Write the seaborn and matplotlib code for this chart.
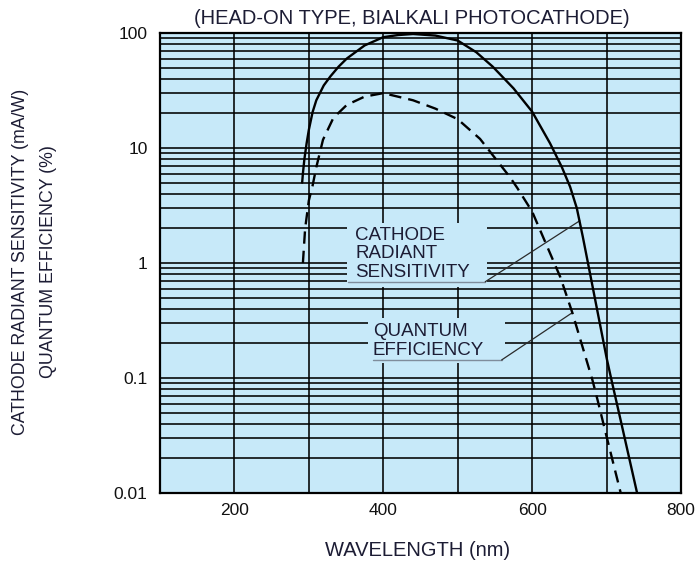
import matplotlib
matplotlib.use("Agg")
import numpy as np
import pandas as pd
import seaborn as sns
import matplotlib.pyplot as plt
from matplotlib import font_manager
from matplotlib.ticker import FixedLocator, FixedFormatter, NullFormatter

# ---------------- data ----------------
wl_sens = [291, 292, 294, 297, 300, 305, 310, 320, 329, 340, 351, 375, 400, 420, 440,
           470, 500, 525, 547, 575, 600, 624, 640, 651, 660, 668, 675, 700, 706, 720, 741]
sens = [5.0, 6.0, 8.0, 11.0, 14.4, 20.5, 26.0, 35.0, 42.0, 51.0, 60.0, 78.0, 92.0, 96.0, 98.0,
        95.0, 86.0, 68.0, 51.0, 33.0, 20.7, 11.0, 6.8, 4.6, 3.0, 1.7, 1.0, 0.15, 0.10, 0.04, 0.01]

wl_qe = [292, 295, 300, 305, 310, 319, 333, 351, 375, 400, 440, 470, 500, 530, 570, 580,
         600, 638, 654, 681, 688, 700, 719]
qe = [1.0, 2.0, 3.5, 4.7, 6.8, 11.8, 18.3, 23.7, 28.0, 30.0, 26.0, 22.0, 17.8, 12.0, 5.6, 4.5,
      2.8, 0.75, 0.37, 0.096, 0.064, 0.031, 0.01]

x_ticks = [200, 400, 600, 800]
x_grid = [100, 200, 300, 400, 500, 600, 700, 800]
y_ticks = [0.01, 0.1, 1, 10, 100]
y_tick_labels = ["0.01", "0.1", "1", "10", "100"]

title = "(HEAD-ON TYPE, BIALKALI PHOTOCATHODE)"
xlabel = "WAVELENGTH (nm)"
ylabel1 = "CATHODE RADIANT SENSITIVITY (mA/W)"
ylabel2 = "QUANTUM EFFICIENCY (%)"
label_sens = ["CATHODE", "RADIANT", "SENSITIVITY"]
label_qe = ["QUANTUM", "EFFICIENCY"]

# ---------------- style ----------------
sns.set_style("white")
plt.rcParams['font.family'] = ['Liberation Sans', 'DejaVu Sans']
names = {f.name for f in font_manager.fontManager.ttflist}
narrow = 'Liberation Sans Narrow' if 'Liberation Sans Narrow' in names else 'Liberation Sans'

BG = '#c7e9f9'
TXT = '#1c1c34'

W, H = 699, 564
fig = plt.figure(figsize=(W / 100, H / 100), dpi=100)
fig.patch.set_facecolor('white')
L, R, T, B = 160, 681, 33, 493
ax = fig.add_axes([L / W, 1 - B / H, (R - L) / W, (B - T) / H])
ax.set_facecolor(BG)

df_s = pd.DataFrame({'wavelength': wl_sens, 'value': sens})
df_q = pd.DataFrame({'wavelength': wl_qe, 'value': qe})
sns.lineplot(data=df_s, x='wavelength', y='value', ax=ax, color='black', lw=1.7,
             sort=False, estimator=None, zorder=4)
sns.lineplot(data=df_q, x='wavelength', y='value', ax=ax, color='black', lw=1.7,
             sort=False, estimator=None, zorder=4)
ax.lines[-1].set_linestyle((0, (5.2, 3.0)))

ax.set_yscale('log')
ax.set_xlim(100, 800)
ax.set_ylim(0.01, 100)

ax.xaxis.set_major_locator(FixedLocator(x_ticks))
ax.xaxis.set_minor_locator(FixedLocator(x_grid))
ax.xaxis.set_minor_formatter(NullFormatter())
ax.yaxis.set_major_locator(FixedLocator(y_ticks))
ax.yaxis.set_major_formatter(FixedFormatter(y_tick_labels))
minors = [m * 10.0 ** e for e in range(-2, 2) for m in range(2, 10)]
ax.yaxis.set_minor_locator(FixedLocator(minors))
ax.yaxis.set_minor_formatter(NullFormatter())

ax.set_axisbelow(True)
ax.grid(which='both', axis='both', color='black', lw=1.15)
ax.tick_params(which='both', length=0)
ax.tick_params(axis='x', pad=7, labelsize=12.5, labelcolor='#111111')
ax.tick_params(axis='y', pad=9, labelsize=12.5, labelcolor='#111111')
ax.set_xlabel('')
ax.set_ylabel('')
for s in ax.spines.values():
    s.set_visible(True)
    s.set_color('black')
    s.set_linewidth(1.6)

# annotation boxes masking the grid
ax.fill([351, 540, 540, 351], [0.62, 0.62, 2.23, 2.23], color=BG, zorder=1.5, lw=0)
ax.fill([379, 563, 563, 379], [0.136, 0.136, 0.333, 0.333], color=BG, zorder=1.5, lw=0)
ax.plot([353, 537], [0.687, 0.687], color='#7f8d9c', lw=1.0, zorder=3)
ax.plot([386, 559], [0.1435, 0.1435], color='#7f8d9c', lw=1.0, zorder=3)
ax.plot([537, 664], [0.687, 2.33], color='#2a2a2a', lw=0.9, zorder=3)
ax.plot([559, 654], [0.1435, 0.37], color='#2a2a2a', lw=0.9, zorder=3)

for txt, yv in zip(label_sens, [1.73, 1.2, 0.83]):
    ax.text(362, yv, txt, ha='left', va='center', fontsize=13.5, color=TXT, zorder=3)
for txt, yv in zip(label_qe, [0.253, 0.175]):
    ax.text(386, yv, txt, ha='left', va='center', fontsize=13.5, color=TXT, zorder=3)

fig.text(412 / W, 1 - 18 / H, title, ha='center', va='center', fontsize=14.5, color=TXT)
fig.text(418 / W, 1 - 550 / H, xlabel, ha='center', va='center', fontsize=14.5, color=TXT)
fig.text(21 / W, 1 - 262 / H, ylabel1, rotation=90, ha='center', va='center',
         fontsize=12.8, color=TXT, family=[narrow, 'DejaVu Sans'])
fig.text(49 / W, 1 - 262 / H, ylabel2, rotation=90, ha='center', va='center',
         fontsize=12.8, color=TXT, family=[narrow, 'DejaVu Sans'])

fig.savefig('out.png', dpi=100, facecolor='white')
